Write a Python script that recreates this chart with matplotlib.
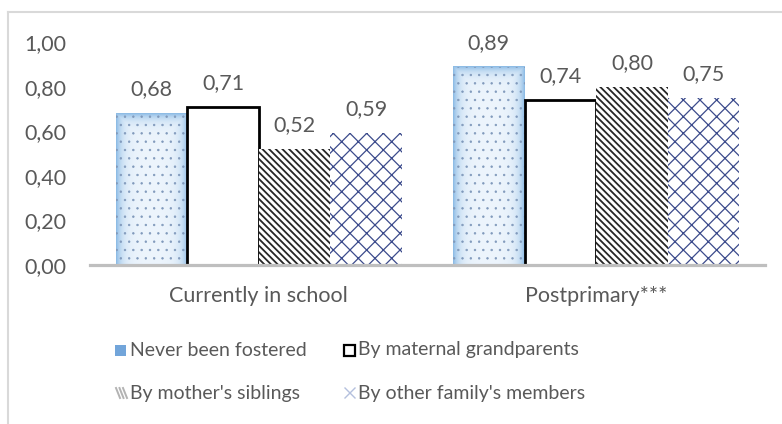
import matplotlib
matplotlib.use("Agg")
import matplotlib.pyplot as plt
import numpy as np
from matplotlib.patches import Rectangle
from matplotlib.lines import Line2D

plt.rcParams['font.family'] = ['Lato', 'DejaVu Sans']

categories = ["Currently in school", "Postprimary***"]
series = ["Never been fostered", "By maternal grandparents",
          "By mother's siblings", "By other family's members"]
never_fostered = [0.68, 0.89]
maternal_grandparents = [0.71, 0.74]
mothers_siblings = [0.52, 0.80]
other_family = [0.59, 0.75]
values = [never_fostered, maternal_grandparents, mothers_siblings, other_family]
yticks = [0.0, 0.2, 0.4, 0.6, 0.8, 1.0]

W, H = 782, 424
txt = '#595959'
fs = 15.5      # axis text
fs_leg = 14    # legend text

def comma(v):
    return f"{v:.2f}".replace('.', ',')

fig = plt.figure(figsize=(W / 100, H / 100), dpi=100)
ax = fig.add_axes([90 / W, 1 - 265 / H, (765 - 90) / W, (265 - 42) / H])

x = np.arange(len(categories))
bw = 0.212
offs = (np.arange(4) - 1.5) * bw

def blue_gradient(hpx, wpx):
    # pale centre fading to blue on the sides and top
    u = np.linspace(0, 1, max(int(wpx), 2))
    v = np.linspace(1, 0, max(int(hpx), 2))
    uu, vv = np.meshgrid(u, v)
    dx = np.minimum(uu, 1 - uu) * wpx
    dt = (1 - vv) * hpx
    w = np.maximum(np.exp(-dx / 6.0), np.exp(-dt / 6.0))
    pale = np.array([0.93, 0.96, 0.99])
    edge = np.array([0.56, 0.74, 0.90])
    return pale + w[..., None] * (edge - pale)

styles = [
    dict(face='none', edge='#8099bb', hatch='..', hlw=0.5, lw=0),
    dict(face='white', edge='black', hatch=None, hlw=1.0, lw=2.0),
    dict(face='white', edge='#262626', hatch='\\\\\\\\\\', hlw=1.3, lw=0),
    dict(face='white', edge='#3c4b8c', hatch='xx', hlw=0.9, lw=0),
]

for i, (vals, st) in enumerate(zip(values, styles)):
    with plt.rc_context({'hatch.linewidth': st['hlw']}):
        bars = ax.bar(x + offs[i], vals, bw, facecolor=st['face'],
                      edgecolor=st['edge'], hatch=st['hatch'],
                      linewidth=st['lw'], zorder=3)
    for b, v in zip(bars, vals):
        if i == 0:
            bx = b.get_x()
            img = blue_gradient(v * 223, bw * 337.5)
            ax.imshow(img, extent=[bx, bx + bw, 0, v], aspect='auto',
                      zorder=2, interpolation='bilinear')
        ax.annotate(comma(v), (b.get_x() + bw / 2, v), xytext=(0, 10),
                    textcoords='offset points', ha='center', va='bottom',
                    fontsize=fs, color=txt)

ax.set_xlim(-0.5, 1.5)
ax.set_ylim(0, 1.0)
ax.set_yticks(yticks)
ax.set_yticklabels([comma(t) for t in yticks])
ax.set_xticks(x)
ax.set_xticklabels(categories)
ax.tick_params(axis='y', length=0, pad=17, labelsize=fs, labelcolor=txt)
ax.tick_params(axis='x', length=0, pad=15, labelsize=fs, labelcolor=txt)
for s in ['top', 'right', 'left']:
    ax.spines[s].set_visible(False)
ax.spines['bottom'].set_color('#bfbfbf')
ax.spines['bottom'].set_linewidth(2.3)
ax.spines['bottom'].set_zorder(4)
ax.patch.set_alpha(0)

# outer frame
fig.add_artist(Line2D([8 / W, 8 / W], [0, 1 - 12 / H], color='#d9d9d9', lw=1.5))
fig.add_artist(Line2D([8 / W, 1], [1 - 12 / H, 1 - 12 / H], color='#d9d9d9', lw=1.5))

# legend
pos = [(115, 350), (343, 350), (115, 393), (343, 393)]
for name, (lx, ly) in zip(series, pos):
    fig.text((lx + 15) / W, 1 - ly / H, name, fontsize=fs_leg, color=txt,
             ha='left', va='center')
for k, (lx, ly) in enumerate(pos):
    if k == 0:
        fig.add_artist(Rectangle((lx / W, 1 - (ly + 6) / H), 11 / W, 11 / H,
                                 transform=fig.transFigure, facecolor='#72a5da',
                                 edgecolor='none'))
    elif k == 1:
        fig.add_artist(Rectangle(((lx + 1) / W, 1 - (ly + 6) / H), 11 / W, 11 / H,
                                 transform=fig.transFigure, facecolor='white',
                                 edgecolor='black', lw=1.6))
    elif k == 2:
        for d in range(3):
            x0 = lx + 1 + d * 3.5
            fig.add_artist(Line2D([x0 / W, (x0 + 4) / W],
                                  [1 - (ly - 5) / H, 1 - (ly + 5) / H],
                                  color='#b3b3b3', lw=1.4))
    else:
        fig.add_artist(Line2D([(lx + 2) / W, (lx + 12) / W],
                              [1 - (ly - 5) / H, 1 - (ly + 5) / H], color='#b4c0de', lw=1.0))
        fig.add_artist(Line2D([(lx + 2) / W, (lx + 12) / W],
                              [1 - (ly + 5) / H, 1 - (ly - 5) / H], color='#b4c0de', lw=1.0))

fig.savefig("out.png", dpi=100)
